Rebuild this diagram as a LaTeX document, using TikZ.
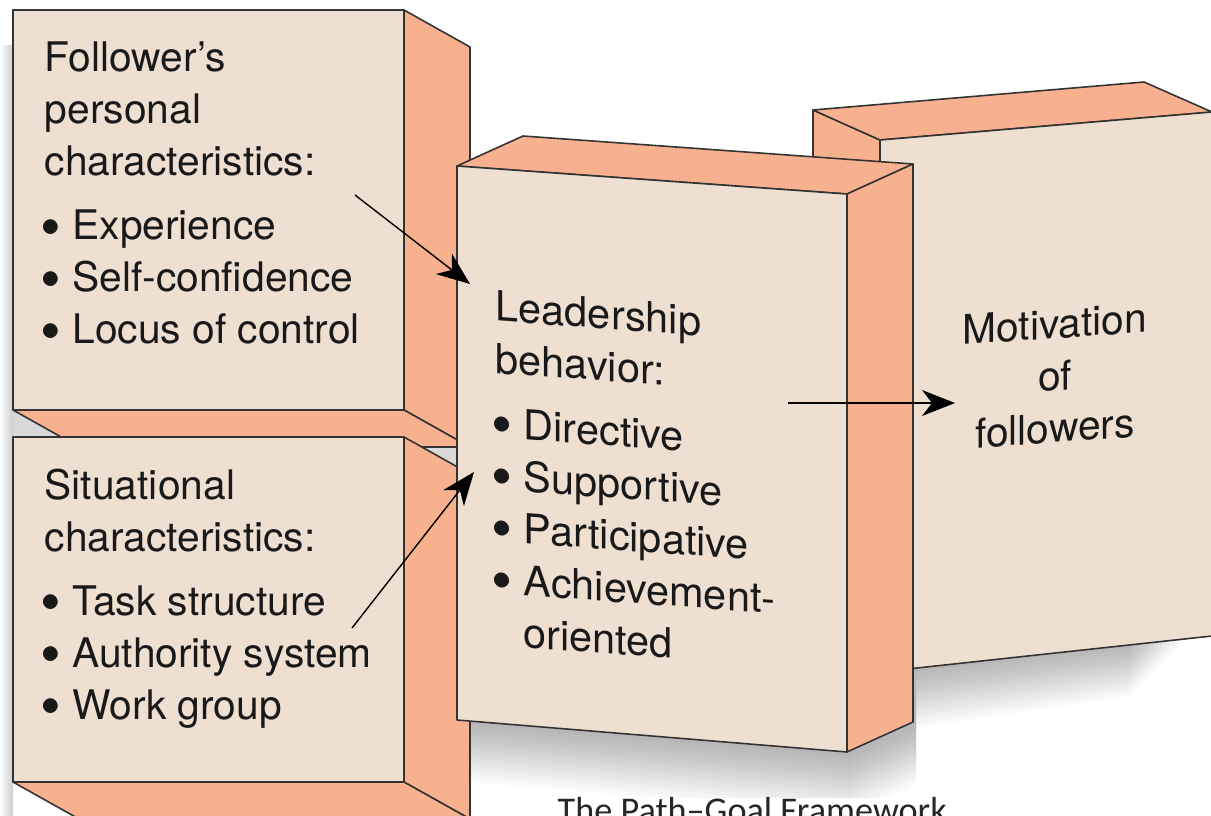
\documentclass[tikz,border=0pt]{standalone}
\usepackage{fontspec}
\setsansfont{TeX Gyre Heros}
\newfontfamily\figcapfont{Carlito}
\usetikzlibrary{arrows.meta}

\definecolor{facebeige}{RGB}{239,223,209}
\definecolor{sidesalmon}{RGB}{248,177,143}
\newcommand{\itm}{\hbox{\kern-1.2pt\raisebox{-0.18em}{\scalebox{1.45}{\textbullet}}\kern3.2pt}}

\tikzset{
  face/.style={fill=facebeige, draw=black!80, line width=0.45pt, line join=round},
  side/.style={fill=sidesalmon, draw=black!80, line width=0.45pt, line join=round},
  boxtext/.style={inner sep=0pt, align=left, text=black!90, font=\fontsize{11.6}{14.8}\selectfont},
  flow/.style={-{Stealth[length=3.3mm,width=2.6mm,inset=1mm]}, line width=0.4pt}
}

\begin{document}
\begin{tikzpicture}[x=0.1mm,y=-0.1mm]
  \sffamily
  \useasboundingbox (0,0) rectangle (1211,816);
  \fill[white] (0,0) rectangle (1211,816);

  % soft shadows
  \shade[left color=white, right color=black!20] (0,45) rectangle (13,816);
  \fill[black!15] (13,400) rectangle (470,500);
  \begin{scope}
    \clip (0,0) rectangle (1211,797);
    \foreach \d in {4,8,...,60}
      \fill[black, opacity=0.018] (470,700) -- (470,722+\d) -- (850,754+\d) -- (916,725+\d)
        -- (916,668+\d) -- (1190-\d,636+\d) -- (1190-\d,600) -- cycle;
  \end{scope}

  % follower box
  \path[side] (404,10) -- (470,47) -- (470,447) -- (404,410) -- cycle;
  \path[side] (13,410) -- (404,410) -- (470,447) -- (79,447) -- cycle;
  \path[face] (13,10) rectangle (404,410);

  % situation box
  \path[side] (404,437) -- (470,474) -- (470,819) -- (404,782) -- cycle;
  \path[side] (13,782) -- (404,782) -- (470,819) -- (79,819) -- cycle;
  \path[face] (13,437) rectangle (404,782);

  % motivation box
  \path[side] (813,110) -- (880,140) -- (880,672) -- (813,642) -- cycle;
  \path[side] (813,110) -- (1144,82) -- (1212,112) -- (880,140) -- cycle;
  \path[face] (880,140) -- (1212,112) -- (1212,636) -- (880,672) -- cycle;

  % leadership box
  \path[side] (457,166) -- (523,136) -- (913,164) -- (847,194) -- cycle;
  \path[side] (847,194) -- (913,164) -- (913,722) -- (847,752) -- cycle;
  \path[face] (457,166) -- (847,194) -- (847,752) -- (457,720) -- cycle;

  % texts
  \node[boxtext, anchor=north west] (follower) at (44,41)
    {Follower’s\\personal\\characteristics:\\[3.5pt]\itm Experience\\\itm Self-confidence\\\itm Locus of control};
  \node[boxtext, anchor=north west] (situation) at (44,468)
    {Situational\\characteristics:\\[3.5pt]\itm Task structure\\\itm Authority system\\\itm Work group};
  \begin{scope}[shift={(495,290)}, yslant=-0.072]
    \node[boxtext, transform shape, anchor=north west, font=\fontsize{11.8}{14.8}\selectfont] (leadership) at (0,0)
      {Leadership\\behavior:\\[3.5pt]\itm Directive\\\itm Supportive\\\itm Participative\\\itm Achievement-\\\hphantom{\itm}oriented};
  \end{scope}
  \begin{scope}[shift={(1055,308)}, yslant=0.07]
    \node[boxtext, transform shape, align=center, anchor=north] (motivation) at (0,0)
      {Motivation\\of\\followers};
  \end{scope}

  \node[anchor=base west, inner sep=0pt, text=black!85, font=\figcapfont\fontsize{10.3}{13}\selectfont] (caption) at (557,822)
    {The Path–Goal Framework};

  % arrows
  \coordinate (follower out) at (355,195);
  \coordinate (leadership in1) at (470,284);
  \coordinate (situation out) at (352,628);
  \coordinate (leadership in2) at (474,472);
  \coordinate (leadership out) at (788,403);
  \coordinate (motivation in) at (955,403);

  \draw[flow] (follower out) -- (leadership in1);
  \draw[flow] (situation out) -- (leadership in2);
  \draw[flow] (leadership out) -- (motivation in);
\end{tikzpicture}
\end{document}
